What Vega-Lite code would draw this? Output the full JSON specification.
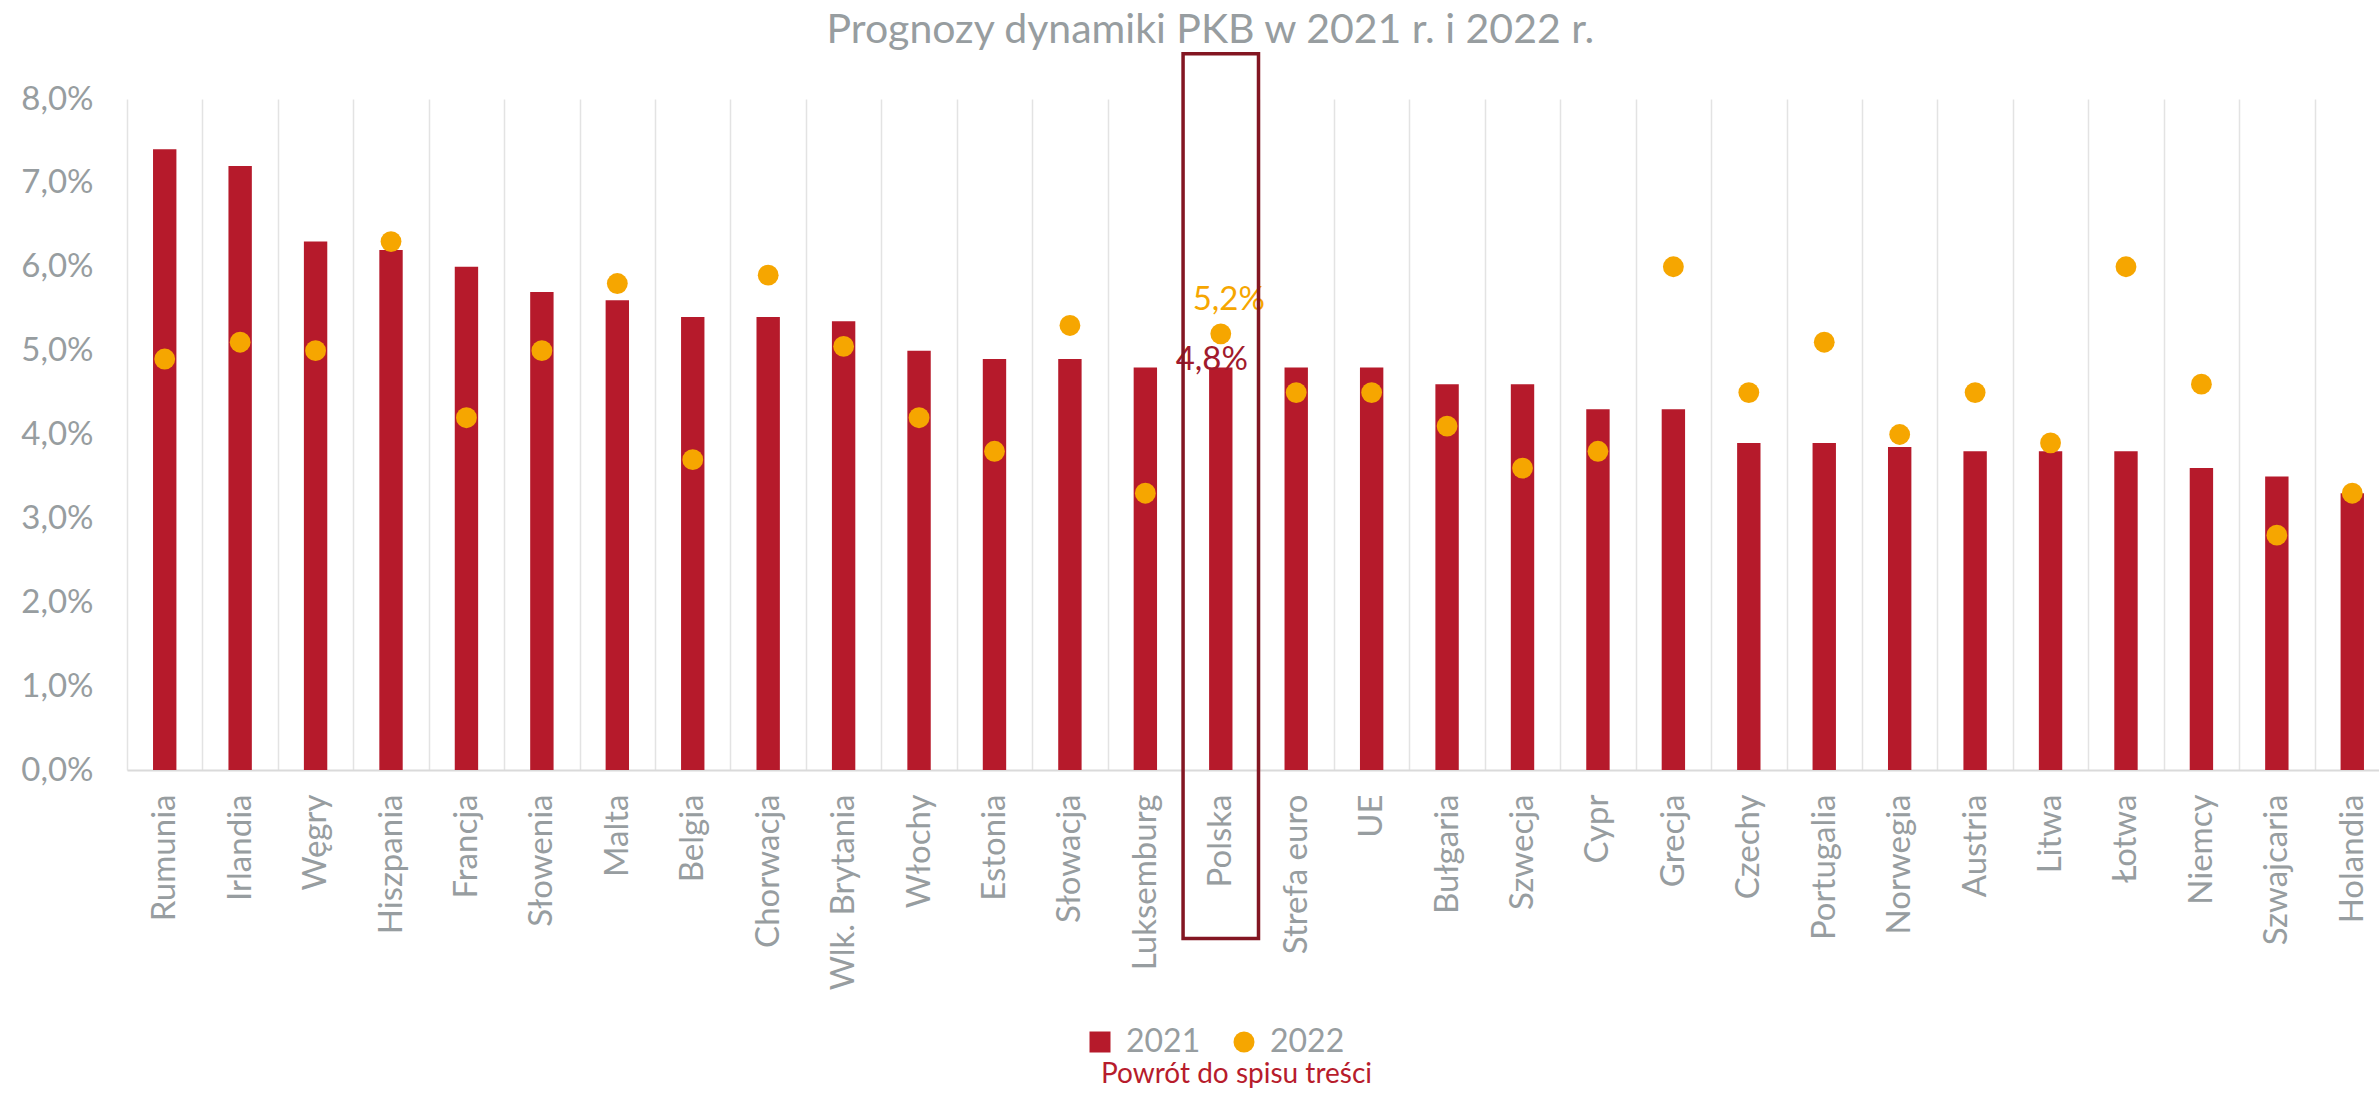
{
  "$schema": "https://vega.github.io/schema/vega-lite/v6.json",
  "background": "white",
  "padding": {"left": 20, "top": 9, "right": 0, "bottom": 0},
  "config": {
    "locale": {"number": {"decimal": ",", "thousands": " ", "grouping": [3], "currency": ["", " zł"]}},
    "view": {"stroke": null},
    "font": "Lato"
  },
  "title": {"text": "Prognozy dynamiki PKB w 2021 r. i 2022 r.", "font": "Lato", "fontSize": 41, "fontWeight": "normal", "color": "#979DA0", "anchor": "middle", "offset": 0, "dx": 5},
  "datasets": {
    "d": [
      {"c": "Rumunia", "rok": "2021", "v": 0.074},
      {"c": "Irlandia", "rok": "2021", "v": 0.072},
      {"c": "Węgry", "rok": "2021", "v": 0.063},
      {"c": "Hiszpania", "rok": "2021", "v": 0.062},
      {"c": "Francja", "rok": "2021", "v": 0.060},
      {"c": "Słowenia", "rok": "2021", "v": 0.057},
      {"c": "Malta", "rok": "2021", "v": 0.056},
      {"c": "Belgia", "rok": "2021", "v": 0.054},
      {"c": "Chorwacja", "rok": "2021", "v": 0.054},
      {"c": "Wlk. Brytania", "rok": "2021", "v": 0.0535},
      {"c": "Włochy", "rok": "2021", "v": 0.050},
      {"c": "Estonia", "rok": "2021", "v": 0.049},
      {"c": "Słowacja", "rok": "2021", "v": 0.049},
      {"c": "Luksemburg", "rok": "2021", "v": 0.048},
      {"c": "Polska", "rok": "2021", "v": 0.048},
      {"c": "Strefa euro", "rok": "2021", "v": 0.048},
      {"c": "UE", "rok": "2021", "v": 0.048},
      {"c": "Bułgaria", "rok": "2021", "v": 0.046},
      {"c": "Szwecja", "rok": "2021", "v": 0.046},
      {"c": "Cypr", "rok": "2021", "v": 0.043},
      {"c": "Grecja", "rok": "2021", "v": 0.043},
      {"c": "Czechy", "rok": "2021", "v": 0.039},
      {"c": "Portugalia", "rok": "2021", "v": 0.039},
      {"c": "Norwegia", "rok": "2021", "v": 0.0385},
      {"c": "Austria", "rok": "2021", "v": 0.038},
      {"c": "Litwa", "rok": "2021", "v": 0.038},
      {"c": "Łotwa", "rok": "2021", "v": 0.038},
      {"c": "Niemcy", "rok": "2021", "v": 0.036},
      {"c": "Szwajcaria", "rok": "2021", "v": 0.035},
      {"c": "Holandia", "rok": "2021", "v": 0.033},
      {"c": "Rumunia", "rok": "2022", "v": 0.049},
      {"c": "Irlandia", "rok": "2022", "v": 0.051},
      {"c": "Węgry", "rok": "2022", "v": 0.050},
      {"c": "Hiszpania", "rok": "2022", "v": 0.063},
      {"c": "Francja", "rok": "2022", "v": 0.042},
      {"c": "Słowenia", "rok": "2022", "v": 0.050},
      {"c": "Malta", "rok": "2022", "v": 0.058},
      {"c": "Belgia", "rok": "2022", "v": 0.037},
      {"c": "Chorwacja", "rok": "2022", "v": 0.059},
      {"c": "Wlk. Brytania", "rok": "2022", "v": 0.0505},
      {"c": "Włochy", "rok": "2022", "v": 0.042},
      {"c": "Estonia", "rok": "2022", "v": 0.038},
      {"c": "Słowacja", "rok": "2022", "v": 0.053},
      {"c": "Luksemburg", "rok": "2022", "v": 0.033},
      {"c": "Polska", "rok": "2022", "v": 0.052},
      {"c": "Strefa euro", "rok": "2022", "v": 0.045},
      {"c": "UE", "rok": "2022", "v": 0.045},
      {"c": "Bułgaria", "rok": "2022", "v": 0.041},
      {"c": "Szwecja", "rok": "2022", "v": 0.036},
      {"c": "Cypr", "rok": "2022", "v": 0.038},
      {"c": "Grecja", "rok": "2022", "v": 0.060},
      {"c": "Czechy", "rok": "2022", "v": 0.045},
      {"c": "Portugalia", "rok": "2022", "v": 0.051},
      {"c": "Norwegia", "rok": "2022", "v": 0.040},
      {"c": "Austria", "rok": "2022", "v": 0.045},
      {"c": "Litwa", "rok": "2022", "v": 0.039},
      {"c": "Łotwa", "rok": "2022", "v": 0.060},
      {"c": "Niemcy", "rok": "2022", "v": 0.046},
      {"c": "Szwajcaria", "rok": "2022", "v": 0.028},
      {"c": "Holandia", "rok": "2022", "v": 0.033}
    ]
  },
  "resolve": {"legend": {"color": "independent", "shape": "independent"}, "scale": {"color": "independent", "shape": "independent"}},
  "vconcat": [
    {
      "width": 2263,
      "height": 671,
      "title": {"text": "Powrót do spisu treści", "orient": "bottom", "font": "Lato", "fontSize": 28, "fontWeight": "normal", "color": "#B71C2C", "anchor": "middle", "offset": 3, "dx": -22},
      "data": {"name": "d"},
      "encoding": {
        "x": {
          "field": "c",
          "type": "nominal",
          "sort": ["Rumunia", "Irlandia", "Węgry", "Hiszpania", "Francja", "Słowenia", "Malta", "Belgia", "Chorwacja", "Wlk. Brytania", "Włochy", "Estonia", "Słowacja", "Luksemburg", "Polska", "Strefa euro", "UE", "Bułgaria", "Szwecja", "Cypr", "Grecja", "Czechy", "Portugalia", "Norwegia", "Austria", "Litwa", "Łotwa", "Niemcy", "Szwajcaria", "Holandia"],
          "scale": {"paddingInner": 0, "paddingOuter": 0},
          "axis": {
            "title": null,
            "labelAngle": -90,
            "labelFont": "Lato",
            "labelFontSize": 33,
            "labelColor": "#979DA0",
            "labelPadding": 24,
            "labelLimit": 400,
            "ticks": false,
            "domainColor": "#DADADA",
            "domainWidth": 2,
            "grid": true,
            "gridColor": "#E3E3E3",
            "gridWidth": 1.5,
            "tickBand": "extent"
          }
        }
      },
      "layer": [
        {
          "transform": [{"filter": "datum.rok == '2021'"}],
          "mark": {"type": "bar", "width": {"band": 0.31}, "opacity": 1},
          "encoding": {
            "y": {
              "field": "v",
              "type": "quantitative",
              "scale": {"domain": [0, 0.08], "nice": false},
              "axis": {
                "title": null,
                "values": [0, 0.01, 0.02, 0.03, 0.04, 0.05, 0.06, 0.07, 0.08],
                "format": ".1%",
                "grid": false,
                "domain": false,
                "ticks": false,
                "labelFont": "Lato",
                "labelFontSize": 33,
                "labelColor": "#979DA0",
                "labelPadding": 34
              }
            },
            "color": {
              "field": "rok",
              "type": "nominal",
              "scale": {"domain": ["2021", "2022"], "range": ["#B61A2B", "#F6A600"]},
              "legend": {"title": null, "orient": "none", "legendX": 957, "legendY": 927, "direction": "horizontal", "labelFont": "Lato", "labelFontSize": 32, "labelColor": "#979DA0", "symbolSize": 441, "symbolStrokeWidth": 0, "labelOffset": 10, "columnPadding": 27}
            }
          }
        },
        {
          "transform": [{"filter": "datum.rok == '2022'"}],
          "mark": {"type": "point", "filled": true, "size": 434, "opacity": 1, "strokeWidth": 0},
          "encoding": {
            "y": {"field": "v", "type": "quantitative"},
            "color": {"field": "rok", "type": "nominal"},
            "shape": {
              "field": "rok",
              "type": "nominal",
              "scale": {"domain": ["2021", "2022"], "range": ["square", "circle"]},
              "legend": {"title": null, "orient": "none", "legendX": 957, "legendY": 927, "direction": "horizontal", "labelFont": "Lato", "labelFontSize": 32, "labelColor": "#979DA0", "symbolSize": 441, "symbolStrokeWidth": 0, "labelOffset": 10, "columnPadding": 27}
            }
          }
        },
        {
          "transform": [{"filter": "datum.c == 'Polska' && datum.rok == '2022'"}],
          "mark": {"type": "text", "color": "#F6A600", "font": "Lato", "fontSize": 33, "dx": 8, "dy": -24, "baseline": "alphabetic"},
          "encoding": {
            "y": {"field": "v", "type": "quantitative"},
            "text": {"field": "v", "type": "quantitative", "format": ".1%"}
          }
        },
        {
          "transform": [{"filter": "datum.c == 'Polska' && datum.rok == '2021'"}],
          "mark": {"type": "text", "color": "#A11A2C", "font": "Lato", "fontSize": 33, "dx": -9, "dy": 3, "baseline": "alphabetic"},
          "encoding": {
            "y": {"field": "v", "type": "quantitative"},
            "text": {"field": "v", "type": "quantitative", "format": ".1%"}
          }
        },
        {
          "transform": [{"filter": "datum.c == 'Polska' && datum.rok == '2021'"}],
          "mark": {"type": "rect", "fill": null, "stroke": "#831622", "strokeWidth": 3.5},
          "encoding": {
            "y": {"datum": 0.0854},
            "y2": {"datum": -0.0201}
          }
        }
      ]
    }
  ]
}
